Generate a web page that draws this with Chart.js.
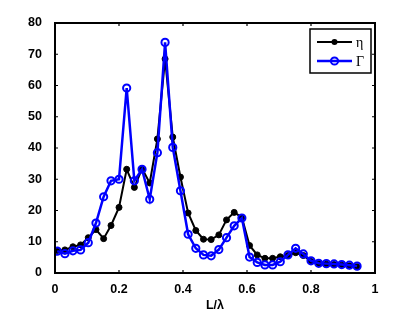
<!DOCTYPE html>
<html>
<head>
<meta charset="utf-8">
<script src="https://cdn.jsdelivr.net/npm/chart.js@4/dist/chart.umd.min.js"></script>
<style>
html,body{margin:0;padding:0;background:#fff;}
#wrap{width:415px;height:313px;}
</style>
</head>
<body>
<div id="wrap"><canvas id="grafico" width="415" height="313"></canvas></div>
<script>
// valores
var xVals = [0.007,0.031,0.056,0.080,0.104,0.128,0.152,0.175,0.200,0.224,
             0.248,0.272,0.296,0.320,0.344,0.368,0.392,0.416,0.440,0.464,
             0.488,0.512,0.536,0.560,0.584,0.608,0.632,0.656,0.680,0.704,
             0.728,0.752,0.776,0.800,0.824,0.848,0.872,0.896,0.920,0.944];
var eta   = [7.2,7.4,8.4,9.0,11.3,13.9,11.0,15.2,21.0,33.2,
             27.4,33.4,28.8,42.9,68.5,43.5,30.7,19.2,13.6,10.8,
             10.7,12.2,17.0,19.4,17.8,8.8,5.8,4.7,4.7,5.2,
             5.6,6.5,5.6,3.7,3.0,2.8,2.7,2.5,2.3,2.0];
var gamma = [7.0,6.2,7.1,7.4,9.7,16.0,24.4,29.5,30.0,59.2,
             29.5,33.2,23.6,38.5,73.8,40.2,26.3,12.4,7.9,5.8,
             5.5,7.5,11.3,15.1,17.6,5.1,3.4,2.6,2.6,3.6,
             5.8,7.9,6.1,3.9,3.1,3.0,2.9,2.7,2.5,2.2];
var xTicks = [0,0.2,0.4,0.6,0.8,1];
var yTicks = [0,10,20,30,40,50,60,70,80];
var nombres = ['\u03b7','\u0393'];

function puntos(ys){
	var out = [];
	for (var i = 0; i < xVals.length; i++) {
		out.push({x: xVals[i], y: ys[i]});
	}
	return out;
}

// marco y marcas hacia adentro (como matlab)
var marco = {
	id: 'marco',
	afterDraw: function(chart){
		var ctx = chart.ctx, a = chart.chartArea;
		var sx = chart.scales.x, sy = chart.scales.y;
		ctx.save();
		ctx.strokeStyle = '#000';
		ctx.lineWidth = 1.2;
		ctx.beginPath();
		xTicks.forEach(function(v){
			var p = sx.getPixelForValue(v);
			ctx.moveTo(p, a.bottom); ctx.lineTo(p, a.bottom - 3);
			ctx.moveTo(p, a.top); ctx.lineTo(p, a.top + 3);
		});
		yTicks.forEach(function(v){
			var p = sy.getPixelForValue(v);
			ctx.moveTo(a.left, p); ctx.lineTo(a.left + 3, p);
			ctx.moveTo(a.right, p); ctx.lineTo(a.right - 3, p);
		});
		ctx.stroke();
		ctx.lineWidth = 2;
		ctx.strokeRect(a.left, a.top, a.right - a.left, a.bottom - a.top);
		ctx.restore();
	}
};

// leyenda dibujada a mano
var leyenda = {
	id: 'leyenda',
	afterDatasetsDraw: function(chart){
		var ctx = chart.ctx, a = chart.chartArea;
		var w = 61, h = 44;
		var bx = a.right - 4 - w, by = a.top + 6;
		ctx.save();
		ctx.fillStyle = '#fff';
		ctx.fillRect(bx, by, w, h);
		ctx.strokeStyle = '#000';
		ctx.lineWidth = 1.5;
		ctx.strokeRect(bx, by, w, h);
		chart.data.datasets.forEach(function(ds, i){
			var yy = by + 13 + i * 19;
			ctx.strokeStyle = ds.borderColor;
			ctx.lineWidth = ds.borderWidth;
			ctx.beginPath();
			ctx.moveTo(bx + 7, yy); ctx.lineTo(bx + 42, yy);
			ctx.stroke();
			ctx.beginPath();
			ctx.arc(bx + 24.5, yy, ds.pointRadius, 0, Math.PI * 2);
			if (i == 0) {
				ctx.fillStyle = ds.pointBackgroundColor;
				ctx.fill();
			} else {
				ctx.lineWidth = ds.pointBorderWidth;
				ctx.stroke();
			}
			ctx.fillStyle = '#000';
			ctx.font = '14px "Liberation Serif"';
			ctx.textBaseline = 'middle';
			ctx.textAlign = 'left';
			ctx.fillText(ds.label, bx + 46, yy + 1);
		});
		ctx.restore();
	}
};

var fuente = {family: '"Liberation Sans", Arial, sans-serif', size: 12.5, weight: 'bold'};

window.grafico = new Chart(document.getElementById('grafico').getContext('2d'), {
	type: 'scatter',
	data: {
		datasets: [
			{
				label: nombres[0],
				data: puntos(eta),
				showLine: true,
				borderColor: '#000',
				borderWidth: 2,
				pointRadius: 3,
				pointBackgroundColor: '#000',
				pointBorderColor: '#000',
				pointBorderWidth: 1,
				order: 2
			},
			{
				label: nombres[1],
				data: puntos(gamma),
				showLine: true,
				borderColor: '#0000ff',
				borderWidth: 2.5,
				pointRadius: 3.6,
				pointBackgroundColor: 'rgba(0,0,0,0)',
				pointBorderColor: '#0000ff',
				pointBorderWidth: 2,
				order: 1
			}
		]
	},
	options: {
		responsive: false,
		animation: false,
		devicePixelRatio: 1,
		layout: {padding: {left: 0, right: 40, top: 23, bottom: 0}},
		plugins: {legend: {display: false}, tooltip: {enabled: false}},
		scales: {
			x: {
				type: 'linear', min: 0, max: 1,
				grid: {display: false}, border: {display: false},
				ticks: {
					stepSize: 0.2, color: '#000', font: fuente, padding: 1,
					callback: function(v){ return (v == 0 || v == 1) ? String(v) : v.toFixed(1); }
				},
				title: {display: true, text: 'L/\u03bb', color: '#000', font: fuente, padding: {top: 1, bottom: 0}},
				afterFit: function(s){ s.height = 40; }
			},
			y: {
				min: 0, max: 80,
				grid: {display: false}, border: {display: false},
				ticks: {stepSize: 10, color: '#000', font: fuente, padding: 5},
				afterFit: function(s){ s.width = 55; }
			}
		}
	},
	plugins: [marco, leyenda]
});
</script>
</body>
</html>
